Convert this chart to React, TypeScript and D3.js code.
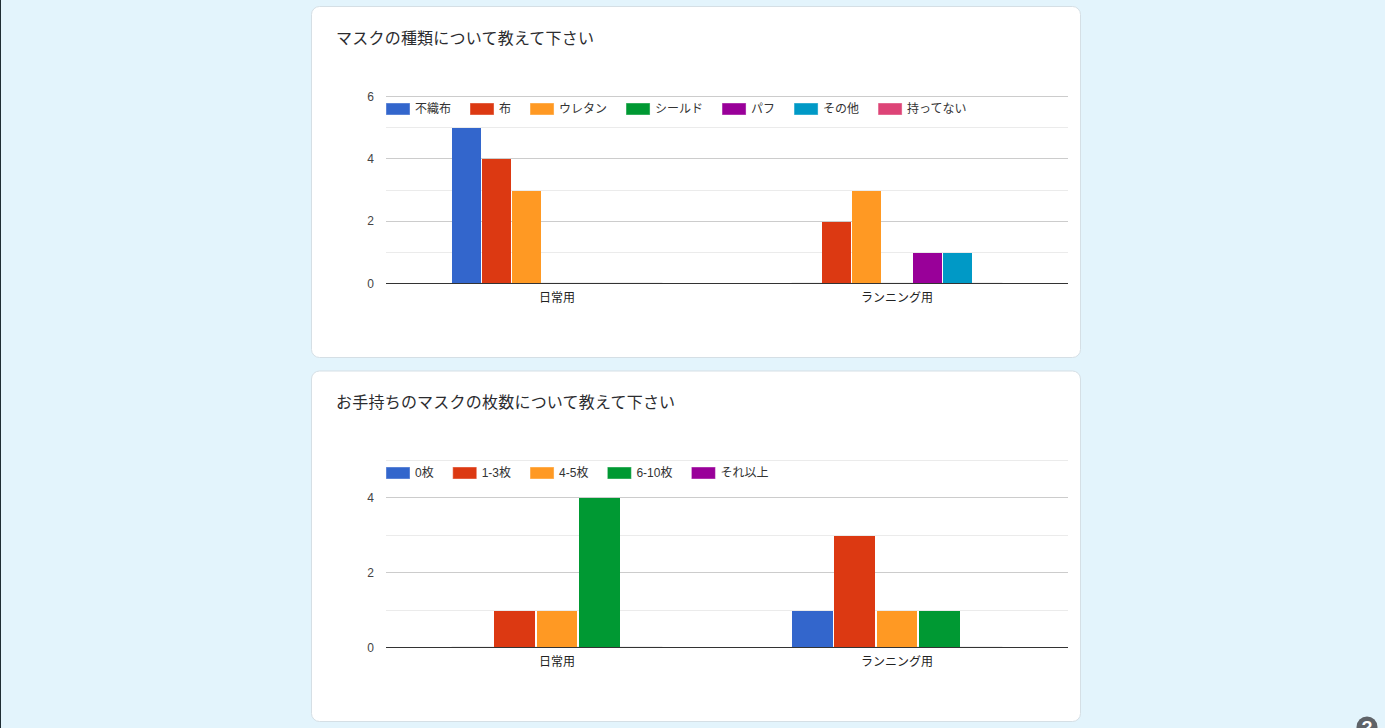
import React, { useEffect, useRef } from 'react';
import * as d3 from 'd3';

const categories = ['日常用', 'ランニング用'];

const title1 = 'マスクの種類について教えて下さい';
const series1 = ['不織布', '布', 'ウレタン', 'シールド', 'パフ', 'その他', '持ってない'];
const values1 = [
  [5, 0],
  [4, 2],
  [3, 3],
  [0, 0],
  [0, 1],
  [0, 1],
  [0, 0],
];
const majorTicks1 = [0, 2, 4, 6];
const minorTicks1 = [1, 3, 5];

const title2 = 'お手持ちのマスクの枚数について教えて下さい';
const series2 = ['0枚', '1-3枚', '4-5枚', '6-10枚', 'それ以上'];
const values2 = [
  [0, 1],
  [1, 3],
  [1, 1],
  [4, 1],
  [0, 0],
];
const majorTicks2 = [0, 2, 4];
const minorTicks2 = [1, 3, 5];

const colors = ['#3366cc', '#dc3912', '#ff9923', '#009933', '#990099', '#0099c6', '#dd4477'];

const FONT = 'Arial, "Liberation Sans", "Noto Sans CJK JP", sans-serif';

interface PanelConfig {
  top: number;
  height: number;
  title: string;
  series: string[];
  values: number[][];
  majorTicks: number[];
  minorTicks: number[];
  yMax: number;
  plotTop: number;
  plotBottom: number;
  legendY: number;
}

const panels: PanelConfig[] = [
  { top: 6.5, height: 351, title: title1, series: series1, values: values1, majorTicks: majorTicks1, minorTicks: minorTicks1, yMax: 6, plotTop: 96.5, plotBottom: 283.5, legendY: 109 },
  { top: 371, height: 350.5, title: title2, series: series2, values: values2, majorTicks: majorTicks2, minorTicks: minorTicks2, yMax: 5, plotTop: 460.5, plotBottom: 647.5, legendY: 473 },
];

const plotLeft = 386;
const plotRight = 1068;

function drawPanel(svg: d3.Selection<SVGSVGElement, unknown, null, undefined>, p: PanelConfig) {
  const g = svg.append('g');

  // card
  g.append('rect')
    .attr('x', 311.5)
    .attr('y', p.top)
    .attr('width', 769)
    .attr('height', p.height)
    .attr('rx', 8)
    .attr('fill', '#fff')
    .attr('stroke', '#d5dfe5');

  g.append('text')
    .attr('x', 336)
    .attr('y', p.top + 37)
    .attr('fill', '#2b2c2f')
    .style('font-size', '16px')
    .style('letter-spacing', '0.22px')
    .style('font-family', FONT)
    .text(p.title);

  const y = d3.scaleLinear().domain([0, p.yMax]).range([p.plotBottom, p.plotTop]);
  // snap to whole pixel rows so the lines stay crisp
  const lineY = (v: number) => Math.floor(y(v)) + 0.5;

  const x0 = d3.scaleBand<string>()
    .domain(categories)
    .range([plotLeft + 1, plotRight - 1])
    .paddingInner(0.38)
    .paddingOuter(0.19);
  const x1 = d3.scaleBand<string>()
    .domain(p.series)
    .range([0, x0.bandwidth()])
    .paddingInner(0.03)
    .paddingOuter(0.015);

  // gridlines
  g.selectAll('line.minor')
    .data(p.minorTicks)
    .enter()
    .append('line')
    .attr('x1', plotLeft)
    .attr('x2', plotRight)
    .attr('y1', d => lineY(d))
    .attr('y2', d => lineY(d))
    .attr('stroke', '#ebebeb');

  g.selectAll('line.major')
    .data(p.majorTicks.filter(d => d !== 0))
    .enter()
    .append('line')
    .attr('x1', plotLeft)
    .attr('x2', plotRight)
    .attr('y1', d => lineY(d))
    .attr('y2', d => lineY(d))
    .attr('stroke', '#cccccc');

  // y tick labels
  g.selectAll('text.ytick')
    .data(p.majorTicks)
    .enter()
    .append('text')
    .attr('x', 374)
    .attr('y', d => y(d) + 4)
    .attr('text-anchor', 'end')
    .attr('fill', '#444')
    .style('font-size', '12px')
    .style('font-family', FONT)
    .text(d => d);

  // faint strip the zero-height bars leave on the baseline
  g.selectAll('line.zero')
    .data(categories)
    .enter()
    .append('line')
    .attr('x1', d => x0(d) || 0)
    .attr('x2', d => (x0(d) || 0) + x0.bandwidth())
    .attr('y1', lineY(0) - 1)
    .attr('y2', lineY(0) - 1)
    .attr('stroke', '#f0f0f0');

  // bars
  p.series.forEach((name, i) => {
    const left = (cat: string) => Math.round((x0(cat) || 0) + (x1(name) || 0));
    const right = (cat: string) => Math.round((x0(cat) || 0) + (x1(name) || 0) + x1.bandwidth());
    g.selectAll(`rect.s${i}`)
      .data(p.values[i].map((v, c) => ({ v, cat: categories[c] })).filter(d => d.v > 0))
      .enter()
      .append('rect')
      .attr('x', d => left(d.cat))
      .attr('y', d => Math.floor(y(d.v)) + 1)
      .attr('width', d => right(d.cat) - left(d.cat))
      .attr('height', d => Math.floor(y(0)) - Math.floor(y(d.v)) - 1)
      .attr('fill', colors[i]);
  });

  // baseline
  g.append('line')
    .attr('x1', plotLeft)
    .attr('x2', plotRight)
    .attr('y1', lineY(0))
    .attr('y2', lineY(0))
    .attr('stroke', '#333');

  // category labels
  g.selectAll('text.cat')
    .data(categories)
    .enter()
    .append('text')
    .attr('x', d => (x0(d) || 0) + x0.bandwidth() / 2)
    .attr('y', p.plotBottom + 18)
    .attr('text-anchor', 'middle')
    .attr('fill', '#222')
    .style('font-size', '12px')
    .style('font-family', FONT)
    .text(d => d);

  // legend, laid out from the measured text widths
  let cursor = plotLeft;
  p.series.forEach((name, i) => {
    g.append('rect')
      .attr('x', cursor + 0.5)
      .attr('y', p.legendY - 5.5)
      .attr('width', 23)
      .attr('height', 11)
      .attr('fill', colors[i])
      .attr('stroke', colors[i])
      .attr('stroke-opacity', 0.6);
    const label = g.append('text')
      .attr('x', cursor + 29)
      .attr('y', p.legendY + 3.5)
      .attr('fill', '#333')
      .style('font-size', '12px')
      .style('font-family', FONT)
      .text(name);
    const w = (label.node() as SVGTextElement).getComputedTextLength();
    cursor += 29 + w + 19;
  });
}

export default function App() {
  const svgRef = useRef<SVGSVGElement>(null);

  useEffect(() => {
    if (!svgRef.current) return;
    const svg = d3.select(svgRef.current);
    svg.selectAll('*').remove();

    // page background and the dark sliver on the left edge
    svg.append('rect').attr('width', 1385).attr('height', 728).attr('fill', '#e3f4fc');
    svg.append('rect').attr('width', 1).attr('height', 728).attr('fill', '#1f2d33');

    panels.forEach(p => drawPanel(svg, p));

    // help button, cut off by the bottom of the window
    svg.append('circle').attr('cx', 1367).attr('cy', 727).attr('r', 10.5).attr('fill', '#5f6368');
    svg.append('text')
      .attr('x', 1367)
      .attr('y', 734)
      .attr('text-anchor', 'middle')
      .attr('fill', '#fff')
      .style('font-size', '18px')
      .style('font-weight', 'bold')
      .style('font-family', FONT)
      .text('?');
  }, []);

  return (
    <svg
      ref={svgRef}
      width={1385}
      height={728}
      style={{ position: 'fixed', left: 0, top: 0, display: 'block' }}
    />
  );
}
